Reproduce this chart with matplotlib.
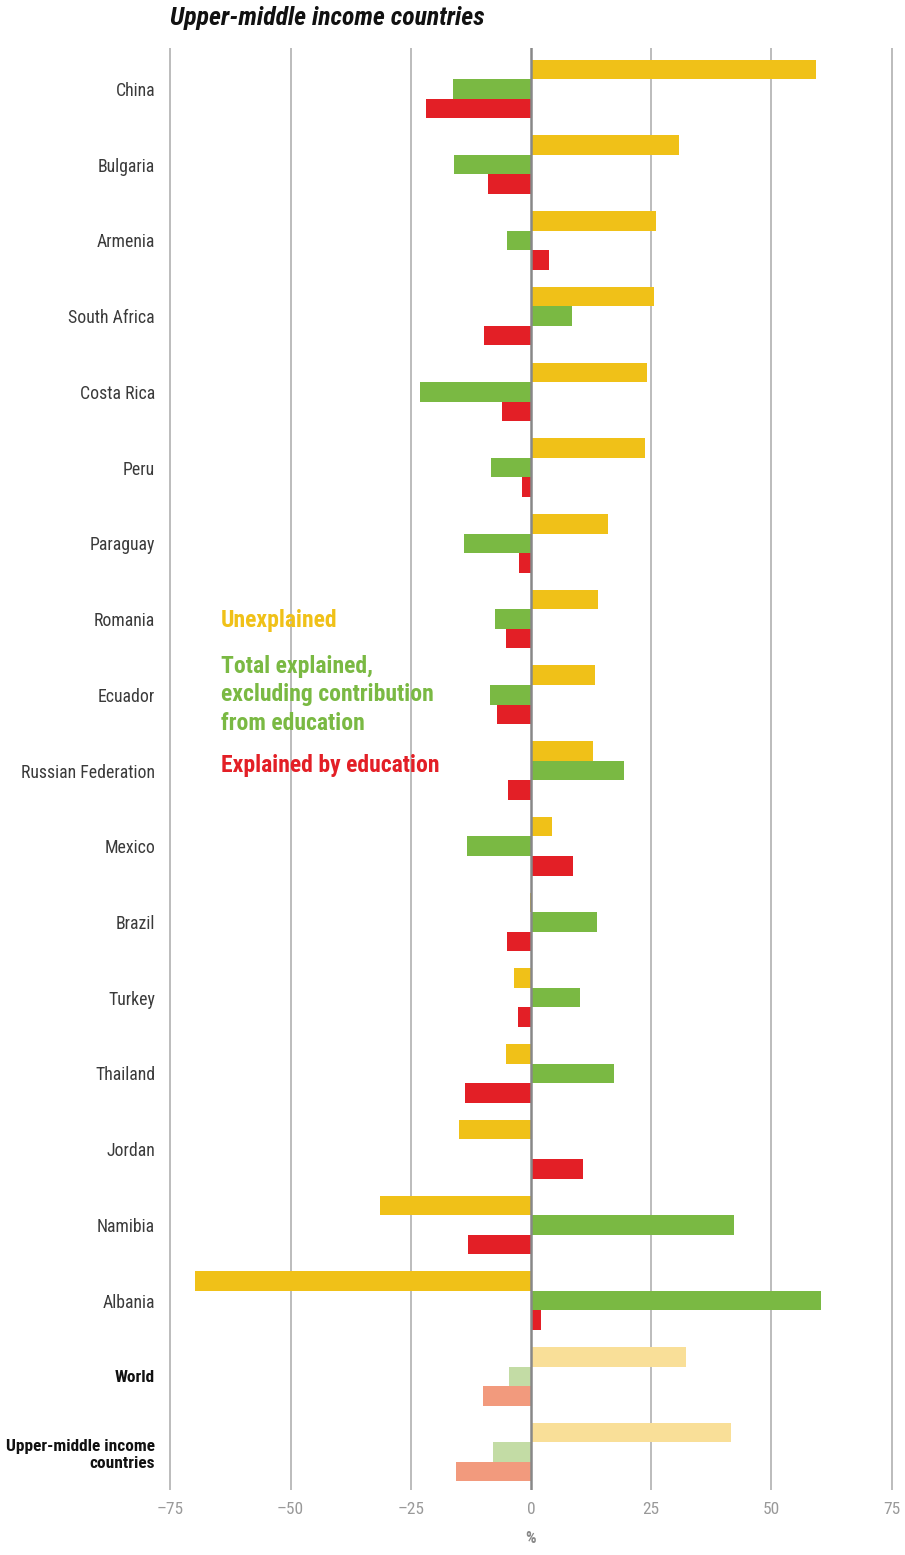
import matplotlib.pyplot as plt
import numpy as np

countries = ["China", "Bulgaria", "Armenia", "South Africa", "Costa Rica", "Peru",
             "Paraguay", "Romania", "Ecuador", "Russian Federation", "Mexico", "Brazil",
             "Turkey", "Thailand", "Jordan", "Namibia", "Albania", "World",
             "Upper-middle income\ncountries"]
unexplained = [59.2, 30.7, 25.9, 25.5, 24.2, 23.8, 16.0, 13.9, 13.3, 12.8, 4.4, -0.2,
               -3.5, -5.2, -14.9, -31.5, -69.8, 32.3, 41.6]
explained_other = [-16.2, -16.0, -5.0, 8.5, -23.0, -8.3, -13.9, -7.5, -8.5, 19.3, -13.3, 13.7,
                   10.2, 17.2, 0.2, 42.3, 60.3, -4.6, -7.9]
explained_edu = [-21.8, -8.9, 3.7, -9.7, -6.0, -1.9, -2.5, -5.2, -7.0, -4.8, 8.7, -5.0,
                 -2.7, -13.7, 10.8, -13.1, 2.1, -9.9, -15.5]
x_ticks = [-75, -50, -25, 0, 25, 50, 75]
n_aggregate = 2  # last two rows are aggregates, drawn in lighter tints

YELLOW, GREEN, RED = "#F0C118", "#7AB943", "#E31F26"
YELLOW_L, GREEN_L, RED_L = "#F9DF98", "#C3DCA5", "#F29A7D"

FONT = ["Liberation Sans Narrow", "Roboto Condensed", "DejaVu Sans"]
plt.rcParams["font.family"] = FONT

fig = plt.figure(figsize=(9.05, 15.55), dpi=100)
ax = fig.add_axes([169 / 905, 1 - 1490 / 1555, 724 / 905, 1442 / 1555])

n = len(countries)
y = np.arange(n)
h = 0.258
n_main = n - n_aggregate
cols_y = [YELLOW] * n_main + [YELLOW_L] * n_aggregate
cols_g = [GREEN] * n_main + [GREEN_L] * n_aggregate
cols_r = [RED] * n_main + [RED_L] * n_aggregate

ax.barh(y - h, unexplained, height=h, color=cols_y, zorder=2)
ax.barh(y, explained_other, height=h, color=cols_g, zorder=2)
ax.barh(y + h, explained_edu, height=h, color=cols_r, zorder=2)

for t in x_ticks:
    ax.axvline(t, color="#888888" if t == 0 else "#b0b0b0",
               lw=1.8 if t == 0 else 1.2, zorder=3 if t == 0 else 1)

ax.set_xlim(-75.3, 75.3)
ax.set_ylim(n - 0.5, -0.54)
for s in ax.spines.values():
    s.set_visible(False)

ax.set_xticks(x_ticks)
ax.set_xticklabels([f"{t}".replace("-", "\u2013") for t in x_ticks],
                   color="#999999", fontsize=12.5)
ax.tick_params(axis="x", length=0, pad=9)
ax.set_xlabel("%", color="#888888", fontsize=12, fontweight="bold", labelpad=10)

ax.set_yticks(y)
ax.set_yticklabels(countries, fontsize=12.8, color="#3a3a3a")
ax.tick_params(axis="y", length=0, pad=10)
for lbl in ax.get_yticklabels()[-n_aggregate:]:
    lbl.set_fontweight("bold")
    lbl.set_color("#111111")
    lbl.set_fontsize(12.4)

fig.text(170 / 905, 1 - 18 / 1555, "Upper-middle income countries", fontsize=18.5,
         fontweight="bold", fontstyle="italic", color="#111111", va="center")

legend_items = [("Unexplained", YELLOW, 621),
                ("Total explained,\nexcluding contribution\nfrom education", GREEN, 695),
                ("Explained by education", RED, 766)]
for txt, col, yp in legend_items:
    fig.text(221 / 905, 1 - yp / 1555, txt, fontsize=17, fontweight="bold",
             color=col, va="center", linespacing=1.28)

fig.savefig("out.png", dpi=100)
